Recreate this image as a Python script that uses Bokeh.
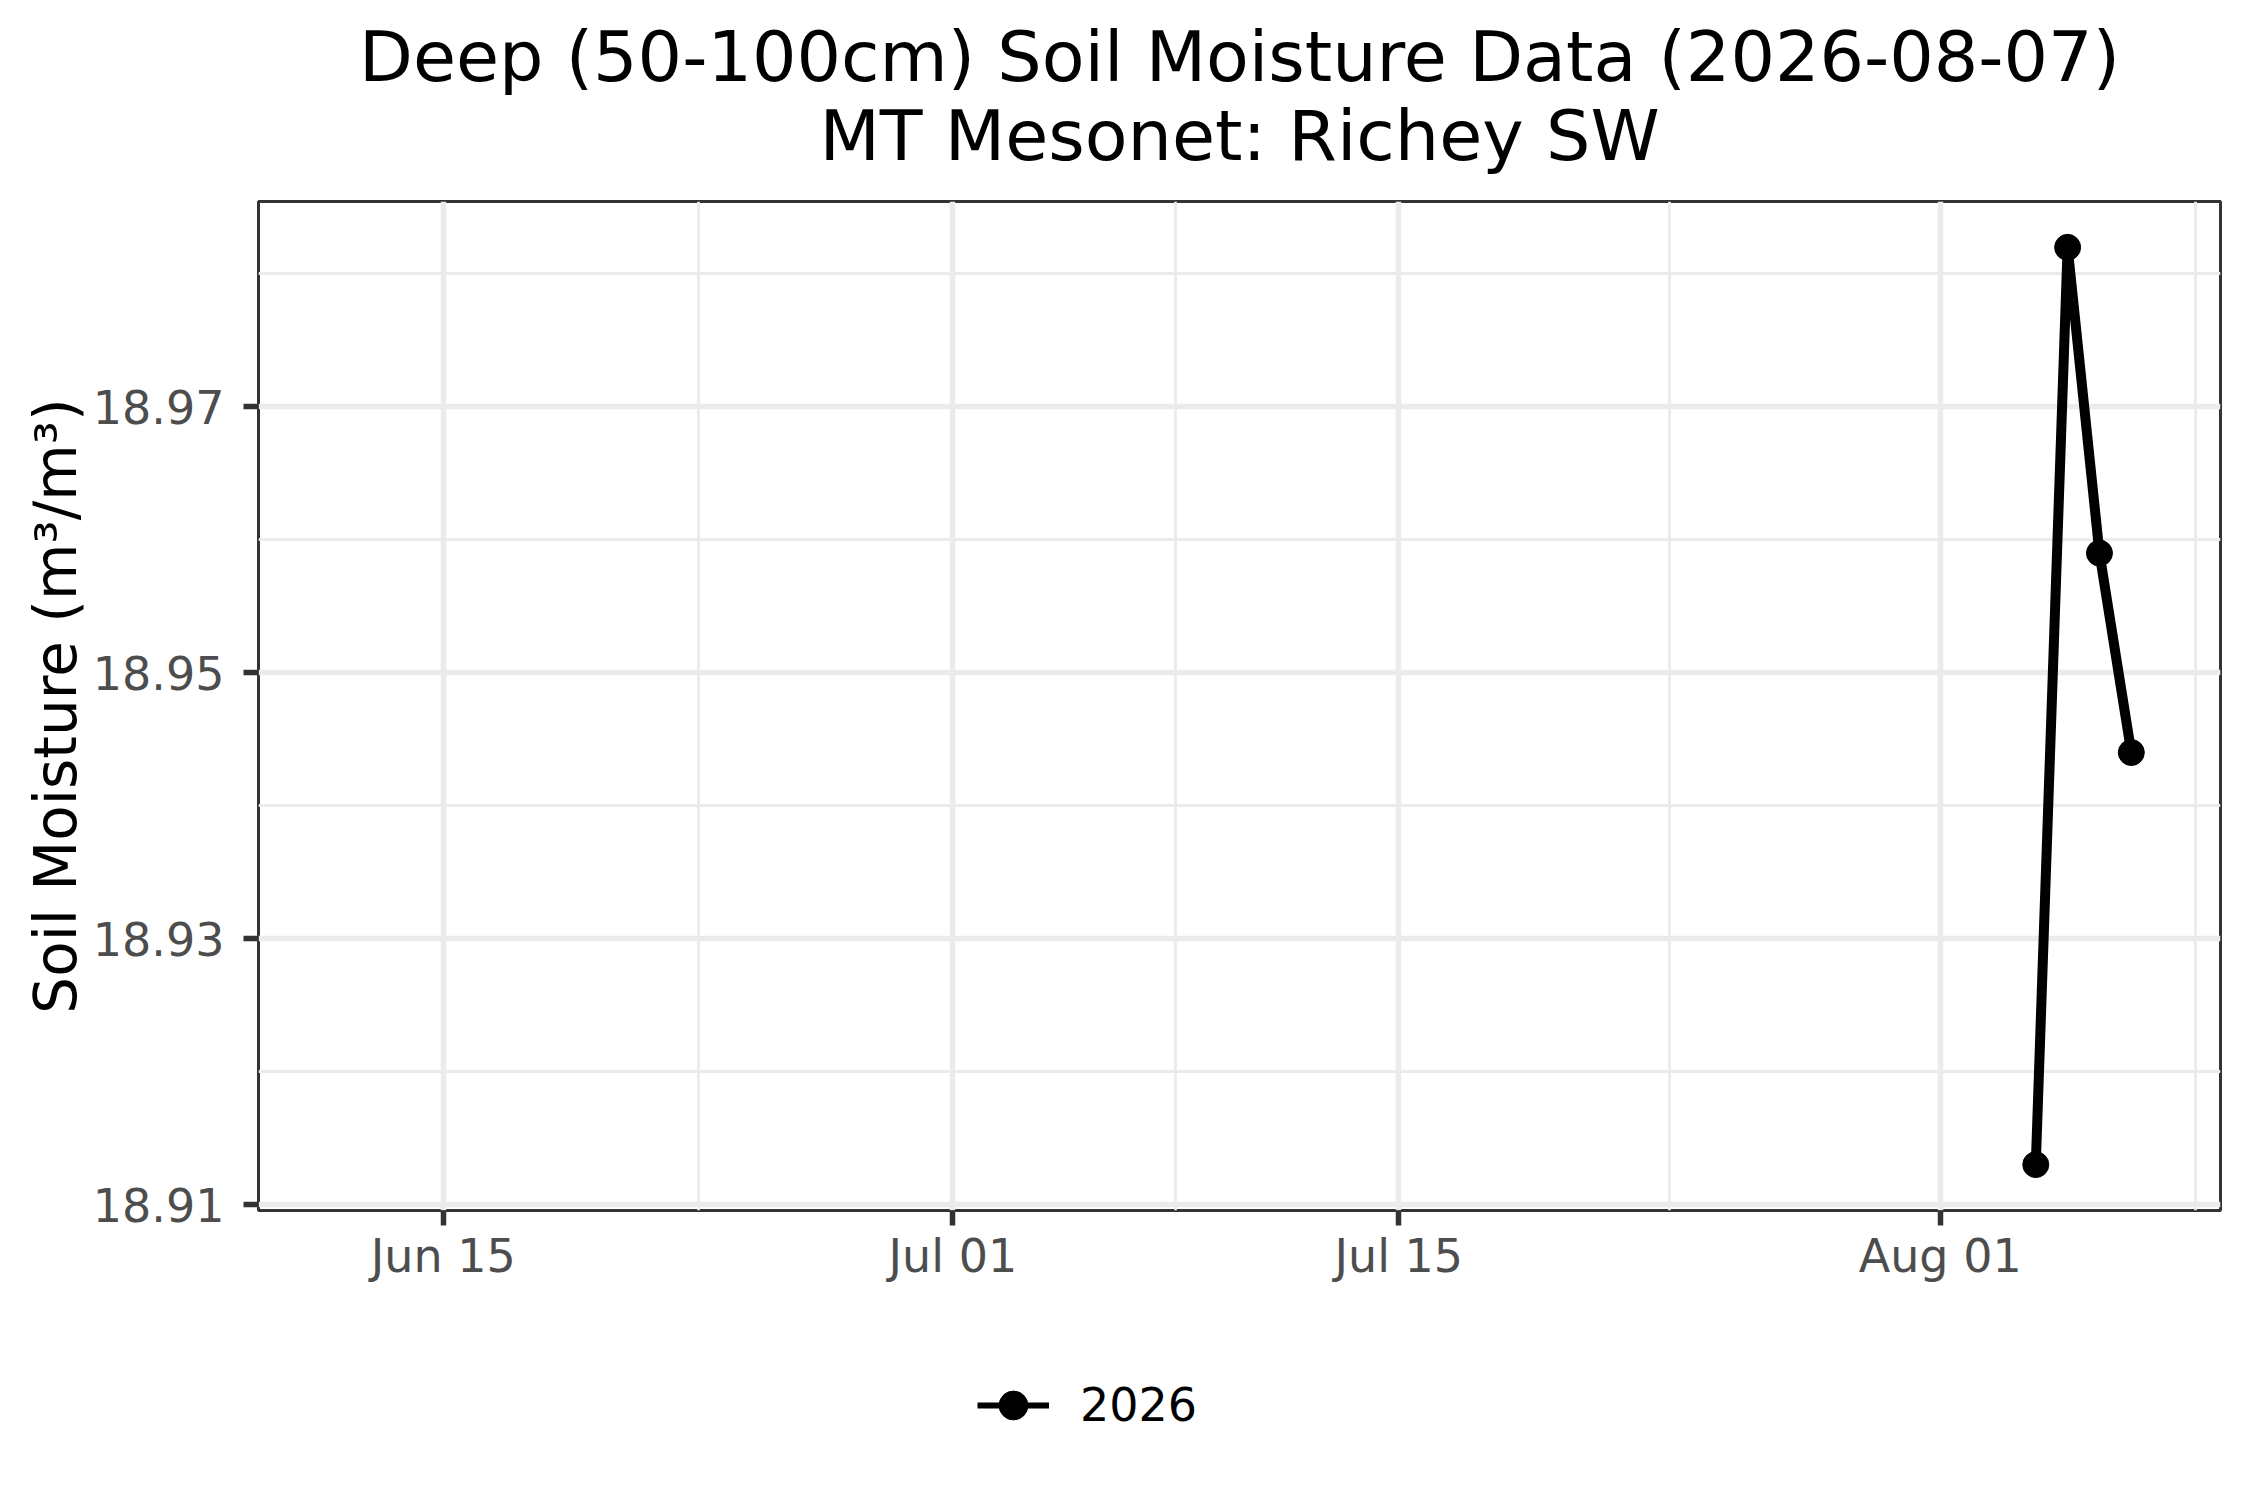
import pandas as pd
from bokeh.plotting import figure
from bokeh.layouts import column
from bokeh.models import (FixedTicker, DatetimeTickFormatter, Range1d, Label,
                          Legend, LegendItem, ColumnDataSource)
from bokeh.embed import file_html
from bokeh.resources import INLINE

# ---- data ----
dates = ["2026-08-04", "2026-08-05", "2026-08-06", "2026-08-07"]
moisture = [18.913, 18.982, 18.959, 18.944]
series_name = "2026"
period = ["2026-06-12", "2026-08-07"]
x_major = ["2026-06-15", "2026-07-01", "2026-07-15", "2026-08-01"]
x_minor = ["2026-06-23", "2026-07-08", "2026-07-23 12:00", "2026-08-09"]
y_major = [18.91, 18.93, 18.95, 18.97]
y_labels = ["18.91", "18.93", "18.95", "18.97"]
y_minor = [18.92, 18.94, 18.96, 18.98]
title1 = "Deep (50-100cm) Soil Moisture Data (2026-08-07)"
title2 = "MT Mesonet: Richey SW"
y_title = "Soil Moisture (m³/m³)"

FONT = "DejaVu Sans"
W = 2234
H_TITLE = 191
H_MAIN = 1149
H_LEG = 144
FRAME_TOP = 201      # page coordinates
FRAME_BOTTOM = 1210
TITLE_SHIFT = 21     # correction for the label baseline placement


def ms(s):
    return pd.Timestamp(s).value / 1e6


x0, x1 = ms(period[0]), ms(period[1])
xpad = 0.05 * (x1 - x0)
ymin, ymax = min(moisture), max(moisture)
ypad = 0.05 * (ymax - ymin)


def strip(height):
    f = figure(width=W, height=height, output_backend="svg", toolbar_location=None,
               x_range=Range1d(0, 1), y_range=Range1d(0, height),
               x_axis_location=None, y_axis_location=None,
               min_border=0, outline_line_color=None,
               background_fill_color="white", border_fill_color="white")
    f.xgrid.visible = False
    f.ygrid.visible = False
    return f


# ---- title strip (frame aligned with the main frame) ----
tf = strip(H_TITLE)
for txt, baseline in ((title1, 77), (title2, 156)):
    tf.add_layout(Label(x=0.5, y=H_TITLE - baseline + TITLE_SHIFT, text=txt,
                        text_align="center", text_baseline="alphabetic",
                        text_font=FONT, text_font_size="70px", text_color="black"))

# ---- main plot ----
top_pad = FRAME_TOP - H_TITLE
p = figure(width=W, height=H_MAIN, x_axis_type="datetime",
           output_backend="svg", toolbar_location=None,
           x_range=Range1d(x0 - xpad, x1 + xpad),
           y_range=Range1d(ymin - ypad, ymax + ypad),
           min_border_left=258, min_border_right=14,
           min_border_top=top_pad,
           min_border_bottom=H_MAIN - (FRAME_BOTTOM - H_TITLE),
           background_fill_color="white", border_fill_color="white")
p.title.text = ""

src = ColumnDataSource(dict(x=pd.to_datetime(dates), y=moisture))
p.line("x", "y", source=src, line_color="black", line_width=10)
p.scatter("x", "y", source=src, size=26, color="black")

p.xaxis.ticker = FixedTicker(ticks=[ms(d) for d in x_major],
                             minor_ticks=[ms(d) for d in x_minor])
fmt = "%b %d"
p.xaxis.formatter = DatetimeTickFormatter(milliseconds=fmt, seconds=fmt, minsec=fmt,
                                          minutes=fmt, hourmin=fmt, hours=fmt,
                                          days=fmt, months=fmt, years=fmt)
p.yaxis.ticker = FixedTicker(ticks=y_major, minor_ticks=y_minor)
p.yaxis.major_label_overrides = dict(zip(y_major, y_labels))

for ax in (p.xaxis[0], p.yaxis[0]):
    ax.axis_line_color = None
    ax.major_tick_line_color = "#333333"
    ax.major_tick_line_width = 5.5
    ax.major_tick_out = 15
    ax.major_tick_in = 0
    ax.minor_tick_line_color = None
    ax.major_label_text_font = FONT
    ax.major_label_text_font_size = "46px"
    ax.major_label_text_color = "#4D4D4D"

p.yaxis.major_label_standoff = 19
p.xaxis.major_label_standoff = 3
p.yaxis.axis_label = y_title
p.yaxis.axis_label_text_font = FONT
p.yaxis.axis_label_text_font_size = "58px"
p.yaxis.axis_label_text_font_style = "normal"
p.yaxis.axis_label_text_color = "black"
p.yaxis.axis_label_standoff = 0

for g in (p.xgrid[0], p.ygrid[0]):
    g.grid_line_color = "#EBEBEB"
    g.grid_line_width = 5.5
    g.minor_grid_line_color = "#EBEBEB"
    g.minor_grid_line_width = 2.8

p.outline_line_color = "#333333"
p.outline_line_width = 3

# ---- legend strip below the plot ----
lf = strip(H_LEG)
key = ColumnDataSource(dict(x=[-10, -9], y=[-10, -10]))   # outside view: only legend glyphs show
lg_line = lf.line("x", "y", source=key, line_color="black", line_width=6)
lg_pt = lf.scatter("x", "y", source=key, size=10, color="black")
leg_center = 1405 - (H_TITLE + H_MAIN)
legend = Legend(items=[LegendItem(label=series_name, renderers=[lg_line, lg_pt])],
                location=(719, H_LEG - leg_center - 36), orientation="horizontal",
                glyph_width=72, glyph_height=72, label_standoff=31,
                padding=0, margin=0, border_line_color=None,
                background_fill_alpha=0, label_text_font=FONT,
                label_text_font_size="46px", label_text_color="black")
lf.add_layout(legend)

layout = column(tf, p, lf, spacing=0)
open("out.html", "w").write(file_html(layout, INLINE))
